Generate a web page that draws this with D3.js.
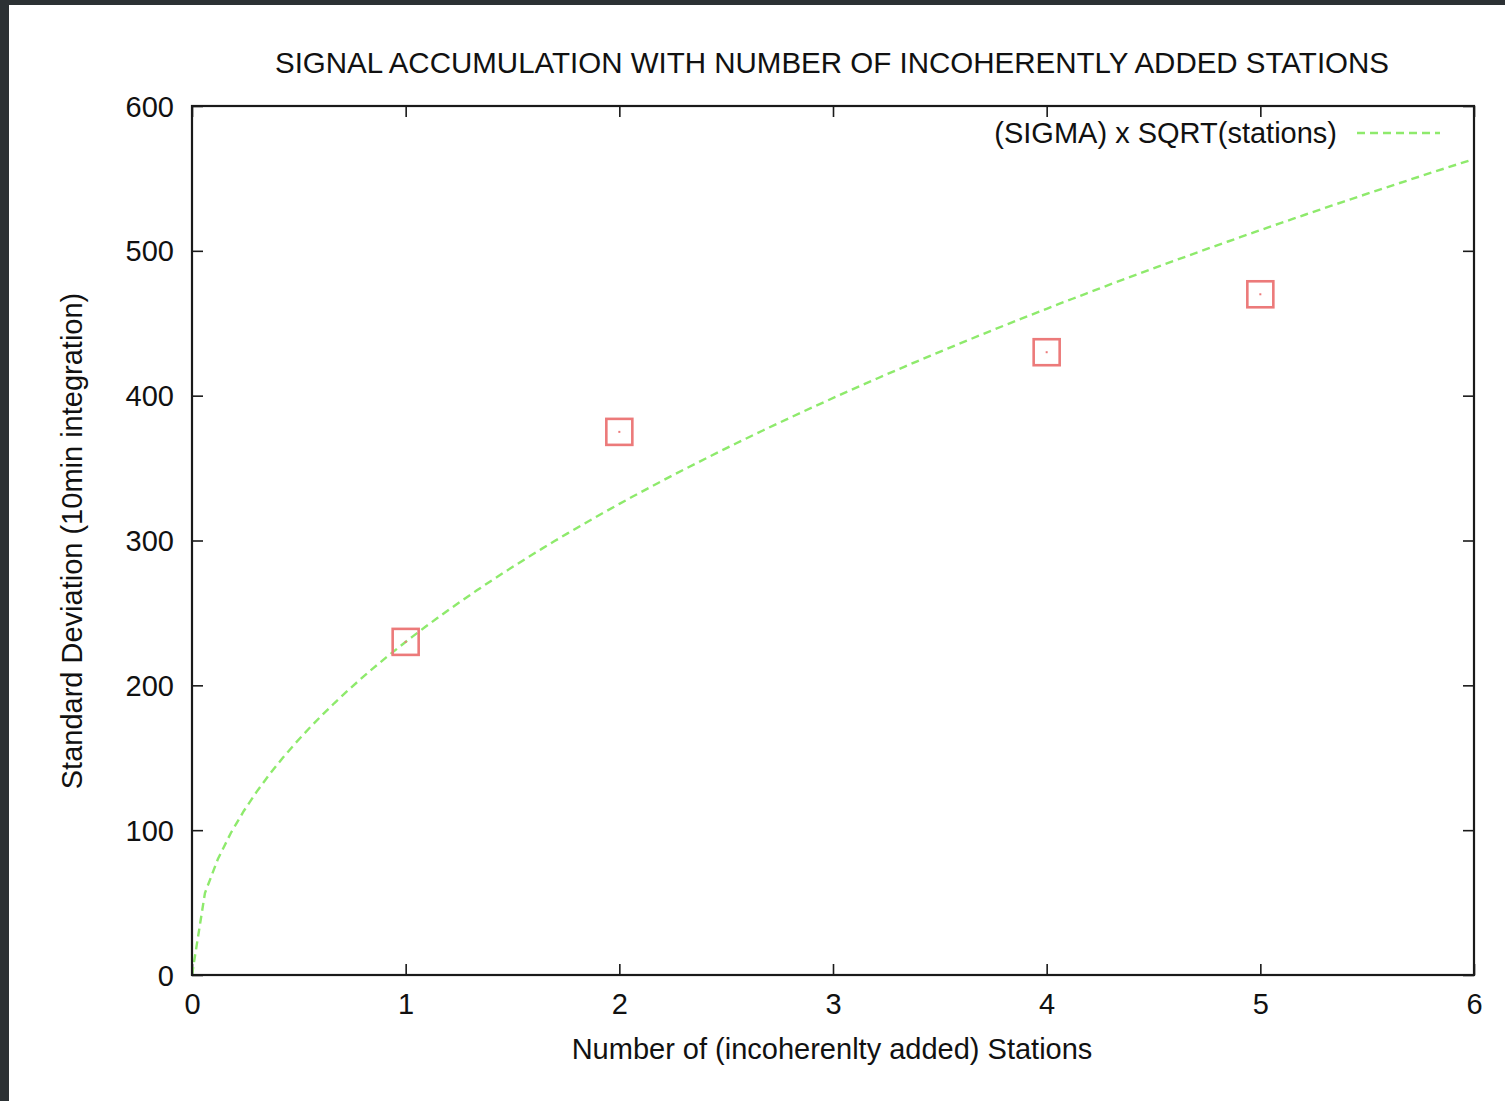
<!DOCTYPE html>
<html>
<head>
<meta charset="utf-8">
<script src="https://cdn.jsdelivr.net/npm/d3@7"></script>
<style>
  html, body { margin: 0; padding: 0; background: #2c3134; }
  svg { display: block; }
  text { font-family: "Liberation Sans", Arial, Helvetica, sans-serif; fill: #111; }
</style>
</head>
<body>
<svg id="chart" width="1505" height="1101"></svg>
<script>
// Measured station counts and the standard deviation after 10 min integration
const stations = [1, 2, 4, 5];
const stdDev = [230, 375, 430, 470];

// Reference curve: sigma * sqrt(stations), sigma taken from the single-station value
const sigma = stdDev[0];
const curveSamples = 100;

const xTicks = [0, 1, 2, 3, 4, 5, 6];
const yTicks = [0, 100, 200, 300, 400, 500, 600];

const titleText = "SIGNAL ACCUMULATION WITH NUMBER OF INCOHERENTLY ADDED STATIONS";
const xLabel = "Number of (incoherenlty added) Stations";
const yLabel = "Standard Deviation (10min integration)";
const legendLabel = "(SIGMA) x SQRT(stations)";

const svg = d3.select("#chart");

// Dark surround and white page
svg.append("rect").attr("x", 0).attr("y", 0).attr("width", 1505).attr("height", 1101).attr("fill", "#2c3134");
svg.append("rect").attr("x", 9).attr("y", 5).attr("width", 1496).attr("height", 1096).attr("fill", "#ffffff");

const plot = { left: 192, right: 1474, top: 106, bottom: 975 };

const x = d3.scaleLinear().domain([0, 6]).range([plot.left, plot.right]);
const y = d3.scaleLinear().domain([0, 600]).range([plot.bottom, plot.top]);

const tickLen = 11;
const axisColor = "#1a1a1a";
const labelSize = 29;

// Inward ticks on all four sides
const bottomAxis = d3.axisBottom(x).tickValues(xTicks).tickSize(-tickLen).tickPadding(18).tickFormat(d3.format("d"));
const topAxis = d3.axisTop(x).tickValues(xTicks).tickSize(-tickLen).tickFormat("");
const leftAxis = d3.axisLeft(y).tickValues(yTicks).tickSize(-tickLen).tickPadding(18).tickFormat(d3.format("d"));
const rightAxis = d3.axisRight(y).tickValues(yTicks).tickSize(-tickLen).tickFormat("");

function styleAxis(g) {
  g.select(".domain").remove();
  g.selectAll(".tick line").attr("stroke", axisColor).attr("stroke-width", 1.6);
  g.selectAll(".tick text").attr("font-size", labelSize).attr("fill", "#111")
    .style("font-family", '"Liberation Sans", Arial, sans-serif');
}

svg.append("g").attr("transform", `translate(0,${plot.bottom})`).call(bottomAxis).call(styleAxis)
  .selectAll(".tick text").attr("dy", "0.71em");
svg.append("g").attr("transform", `translate(0,${plot.top})`).call(topAxis).call(styleAxis);
svg.append("g").attr("transform", `translate(${plot.left},0)`).call(leftAxis).call(styleAxis)
  .selectAll(".tick text").attr("dy", "0.35em");
svg.append("g").attr("transform", `translate(${plot.right},0)`).call(rightAxis).call(styleAxis);

// Curve sigma * sqrt(n)
const curve = d3.range(curveSamples).map(i => {
  const n = 6 * i / (curveSamples - 1);
  return [n, sigma * Math.sqrt(n)];
});

const line = d3.line().x(d => x(d[0])).y(d => y(d[1]));

const greenLine = "#8eea6c";
const redMark = "#ec7a7a";

svg.append("path")
  .datum(curve)
  .attr("d", line)
  .attr("fill", "none")
  .attr("stroke", greenLine)
  .attr("stroke-width", 2.4)
  .attr("stroke-dasharray", "8,5");

// Data markers: open squares with a centre dot
const markSize = 26;
const marks = svg.append("g");
stations.forEach((s, i) => {
  marks.append("rect")
    .attr("x", x(s) - markSize / 2)
    .attr("y", y(stdDev[i]) - markSize / 2)
    .attr("width", markSize)
    .attr("height", markSize)
    .attr("fill", "none")
    .attr("stroke", redMark)
    .attr("stroke-width", 2.6);
  marks.append("rect")
    .attr("x", x(s) - 1)
    .attr("y", y(stdDev[i]) - 1)
    .attr("width", 2)
    .attr("height", 2)
    .attr("fill", redMark);
});

// Plot frame
svg.append("rect")
  .attr("x", plot.left).attr("y", plot.top)
  .attr("width", plot.right - plot.left).attr("height", plot.bottom - plot.top)
  .attr("fill", "none").attr("stroke", axisColor).attr("stroke-width", 2.2);

// Title
svg.append("text")
  .attr("x", 832).attr("y", 73)
  .attr("text-anchor", "middle")
  .attr("font-size", 29.5)
  .text(titleText);

// Axis labels
svg.append("text")
  .attr("x", 832).attr("y", 1059)
  .attr("text-anchor", "middle")
  .attr("font-size", labelSize)
  .text(xLabel);

svg.append("text")
  .attr("transform", `translate(82,541) rotate(-90)`)
  .attr("text-anchor", "middle")
  .attr("font-size", labelSize)
  .text(yLabel);

// Legend
svg.append("text")
  .attr("x", 1337).attr("y", 143)
  .attr("text-anchor", "end")
  .attr("font-size", labelSize)
  .text(legendLabel);

svg.append("line")
  .attr("x1", 1357).attr("x2", 1440)
  .attr("y1", 133).attr("y2", 133)
  .attr("stroke", greenLine)
  .attr("stroke-width", 2.4)
  .attr("stroke-dasharray", "8,5");
</script>
</body>
</html>
